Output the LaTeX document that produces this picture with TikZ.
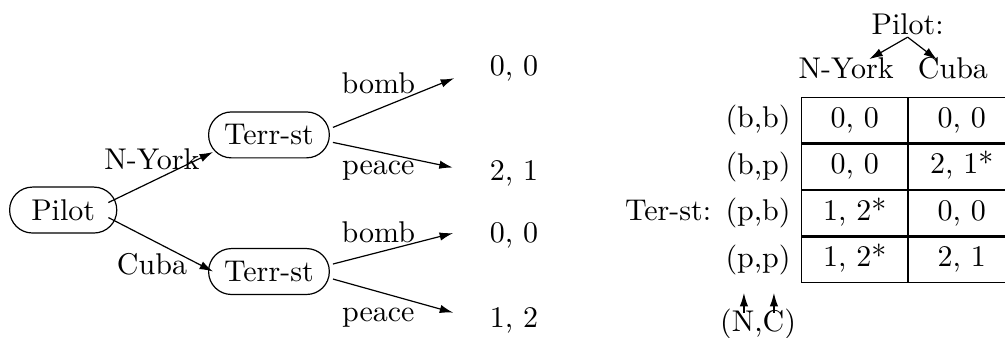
\documentclass[tikz,border=0pt]{standalone}
\usetikzlibrary{positioning,arrows.meta}
\begin{document}
\begin{tikzpicture}[
    player/.style={draw, rounded corners=7.6pt, minimum height=15.3pt, minimum width=35.7pt, inner xsep=5.2pt},
    arr/.style={-{Latex[length=4.5pt,width=2.8pt]}},
    cell/.style={draw, minimum width=1.24cm, minimum height=0.53cm, text height=6.5pt, text depth=2pt, inner sep=0pt},
    lbl/.style={anchor=base}
]
    \useasboundingbox (0,0) rectangle (11.77,3.95);

    % Game tree: players
    \node[player] (pilot) at (0.74,1.49) {Pilot};
    \node[player] (tny) at (3.15,2.37) {Terr-st};
    \node[player] (tcu) at (3.15,0.77) {Terr-st};

    % Game tree: payoffs
    \node[lbl] (pnb) at (6.02,3.07) {0, 0};
    \node[lbl] (pnp) at (6.02,1.84) {2, 1};
    \node[lbl] (pcb) at (6.02,1.11) {0, 0};
    \node[lbl] (pcp) at (6.02,0.12) {1, 2};

    % Pilot moves
    \draw[arr] ([shift={(-3pt,2.5pt)}]pilot.east) -- ([shift={(1.7pt,-5.7pt)}]tny.west);
    \draw[arr] ([shift={(-3pt,-2.5pt)}]pilot.east) -- ([xshift=1.7pt]tcu.west);
    \node[lbl] (lny) at (1.78,1.96) {N-York};
    \node[lbl] (lcu) at (1.78,0.73) {Cuba};

    % Terr-st moves
    \draw[arr, shorten >=9pt] ([shift={(1pt,2.5pt)}]tny.east) -- (pnb.west);
    \draw[arr, shorten >=9pt] ([shift={(1pt,-2.5pt)}]tny.east) -- (pnp.west);
    \draw[arr, shorten >=9pt] ([shift={(1pt,2.5pt)}]tcu.east) -- ([yshift=3pt]pcb.west);
    \draw[arr, shorten >=9pt] ([shift={(1pt,-2.5pt)}]tcu.east) -- (pcp.west);
    \node[lbl] (lnb) at (4.43,2.86) {bomb};
    \node[lbl] (lnp) at (4.43,1.91) {peace};
    \node[lbl] (lcb) at (4.43,1.11) {bomb};
    \node[lbl] (lcp) at (4.43,0.18) {peace};

    % Normal form: Pilot strategies
    \node[lbl] (hpilot) at (10.63,3.55) {Pilot:};
    \node[lbl] (hny) at (9.91,3.03) {N-York};
    \node[lbl] (hcu) at (11.16,3.03) {Cuba};
    \draw[arr] ([yshift=-1pt]hpilot.base) -- ([shift={(7.7pt,-4pt)}]hny.north);
    \draw[arr] ([yshift=-1pt]hpilot.base) -- ([shift={(-5.3pt,-4.3pt)}]hcu.north);

    % Normal form: payoff table
    \node[cell] (c11) at (10.01,2.54) {0, 0};
    \node[cell, right=0pt of c11] (c12) {0, 0};
    \node[cell, below=0pt of c11] (c21) {0, 0};
    \node[cell, right=0pt of c21] (c22) {2, 1*};
    \node[cell, below=0pt of c21] (c31) {1, 2*};
    \node[cell, right=0pt of c31] (c32) {0, 0};
    \node[cell, below=0pt of c31] (c41) {1, 2*};
    \node[cell, right=0pt of c41] (c42) {2, 1};

    % Normal form: Ter-st strategies
    \node[left=0pt of c11] (rbb) {(b,b)};
    \node[left=0pt of c21] (rbp) {(b,p)};
    \node[left=0pt of c31] (rpb) {(p,b)};
    \node[left=0pt of c41] (rpp) {(p,p)};
    \node[base left=-2.3pt of rpb] (hter) {Ter-st:};
    \node[below=4.3pt of rpp] (hnc) {(N,C)};
    \draw[arr] ([shift={(-4.7pt,-4.8pt)}]hnc.north) -- ([shift={(-4.7pt,-2.5pt)}]rpp.south);
    \draw[arr] ([shift={(5.3pt,-4.8pt)}]hnc.north) -- ([shift={(5.3pt,-2.5pt)}]rpp.south);
\end{tikzpicture}
\end{document}
